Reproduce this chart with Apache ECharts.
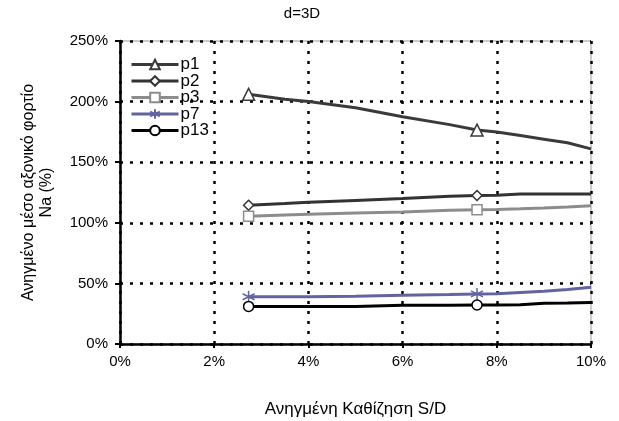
<!DOCTYPE html>
<html>
<head>
<meta charset="utf-8">
<script src="https://cdn.jsdelivr.net/npm/echarts@6/dist/echarts.min.js"></script>
<style>
html,body{margin:0;padding:0;background:#fff;}
#c{width:619px;height:421px;}
</style>
</head>
<body>
<div id="c"></div>
<script>
// Data (x in %, y in %)
const xValues = [2.73, 3.5, 4, 5, 6, 7, 7.58, 8, 8.5, 9, 9.5, 10];
const markerIndex = [0, 6];
const p1 = [206, 202, 200, 195, 187.5, 181, 176.5, 175, 172, 169, 166, 161];
const p2 = [114.5, 116, 117, 118.5, 120, 122, 122.5, 122.7, 123.8, 123.8, 123.8, 123.8];
const p3 = [105.5, 106.5, 107, 108, 109, 110.3, 110.8, 111, 111.5, 112.2, 113, 114];
const p7 = [39, 39, 39, 39.5, 40.2, 40.8, 41.3, 41.5, 42.5, 43.5, 45, 46.8];
const p13 = [31, 31, 31, 31, 32, 32, 32.2, 32.2, 32.3, 33.6, 33.8, 34.2];
const seriesNames = ['p1', 'p2', 'p3', 'p7', 'p13'];
const titleText = 'd=3D';
const xAxisTitle = 'Ανηγμένη Καθίζηση S/D';
const yAxisTitle = 'Ανηγμένο μέσο αξονικό φορτίο\nNa (%)';

const FONT = 'Liberation Sans, Arial, sans-serif';
const asterisk = 'path://M5,0L5,10M0.8,2.5L9.2,7.5M9.2,2.5L0.8,7.5';

const styles = [
  {color: '#3a3a3a', symbol: 'triangle', size: 12, fill: '#fff'},
  {color: '#333333', symbol: 'diamond', size: 10, fill: '#fff'},
  {color: '#8c8c8c', symbol: 'rect', size: 10, fill: '#fff'},
  {color: '#6264a0', symbol: asterisk, size: 12, fill: 'none'},
  {color: '#000000', symbol: 'circle', size: 10, fill: '#fff'}
];
const allValues = [p1, p2, p3, p7, p13];

function buildData(vals, sym) {
  return xValues.map((x, i) => ({
    value: [x, vals[i]],
    symbol: markerIndex.includes(i) ? sym : 'none'
  }));
}

const series = seriesNames.map((name, k) => {
  const s = styles[k];
  return {
    name: name,
    type: 'line',
    data: buildData(allValues[k], s.symbol),
    symbol: s.symbol,
    symbolSize: s.size,
    showAllSymbol: true,
    lineStyle: {color: s.color, width: 3},
    itemStyle: {color: s.fill === 'none' ? s.color : s.fill, borderColor: s.color, borderWidth: 1.5},
    z: 3 + k
  };
});

const chart = echarts.init(document.getElementById('c'), null, {renderer: 'canvas'});
chart.setOption({
  animation: false,
  backgroundColor: '#fff',
  title: {
    text: titleText,
    left: 297, top: 1,
    textAlign: 'center',
    textStyle: {fontFamily: FONT, fontSize: 15, fontWeight: 'normal', color: '#000'}
  },
  legend: {
    orient: 'vertical',
    left: 130, top: 56, padding: 0,
    itemWidth: 47, itemHeight: 12, itemGap: -0.5,
    lineStyle: {width: 3},
    textStyle: {fontFamily: FONT, fontSize: 17, color: '#000', padding: [0,0,0,-3]},
    data: seriesNames
  },
  grid: {
    left: 120, right: 28, top: 41, bottom: 77,
    outerBoundsMode: 'none', containLabel: false,
    show: true, borderColor: '#999', borderWidth: 1, backgroundColor: '#fff'
  },
  xAxis: {
    type: 'value', min: 0, max: 10, interval: 2,
    name: xAxisTitle, nameLocation: 'middle', nameGap: 57,
    nameTextStyle: {fontFamily: FONT, fontSize: 17, color: '#000'},
    axisLine: {lineStyle: {color: '#000', width: 2.5}},
    axisTick: {show: true, inside: false, length: 4, lineStyle: {color: '#000', width: 2}},
    axisLabel: {fontFamily: FONT, fontSize: 15, color: '#000', margin: 10, formatter: v => v + '%'},
    splitLine: {show: true, showMaxLine: true, lineStyle: {color: '#000', width: 2.5, type: [3, 7]}}
  },
  yAxis: {
    type: 'value', min: 0, max: 250, interval: 50,
    name: yAxisTitle, nameLocation: 'middle', nameGap: 64,
    nameTextStyle: {fontFamily: FONT, fontSize: 16, color: '#000', lineHeight: 18},
    axisLine: {show: true, lineStyle: {color: '#000', width: 2.5}},
    axisTick: {show: true, inside: false, length: 5, lineStyle: {color: '#000', width: 2}},
    axisLabel: {fontFamily: FONT, fontSize: 15, color: '#000', margin: 12, formatter: v => v + '%'},
    splitLine: {show: true, showMaxLine: true, lineStyle: {color: '#000', width: 2.5, type: [3, 7]}}
  },
  series: series
});
</script>
</body>
</html>
